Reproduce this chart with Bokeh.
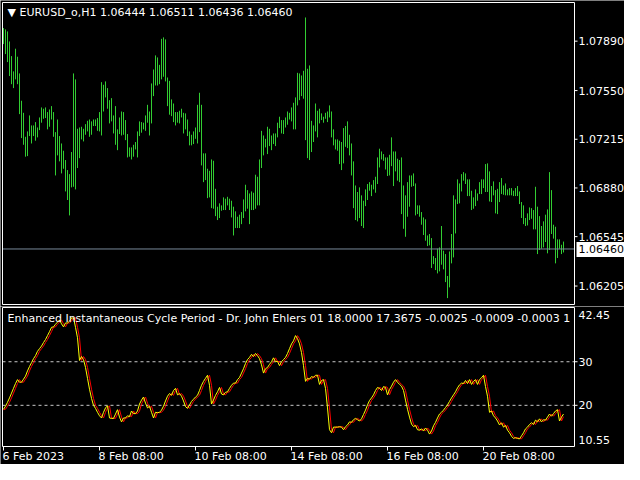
from bokeh.plotting import figure
from bokeh.layouts import column
from bokeh.models import Range1d
from bokeh.core.properties import value
from bokeh.embed import file_html
from bokeh.resources import INLINE

# ---------------- data ----------------
symbol_header = "\u25BC EURUSD_o,H1  1.06444 1.06511 1.06436 1.06460"
indicator_title = ("Enhanced Instantaneous Cycle Period - Dr. John Ehlers 01 "
                   "18.0000 17.3675 -0.0025 -0.0009 -0.0003 1")

bar_high = [
    1.07980, 1.07971, 1.07957, 1.07888, 1.07787, 1.07682, 1.07838, 1.07783, 1.07668, 1.07480,
    1.07397, 1.07232, 1.07269, 1.07379, 1.07310, 1.07310, 1.07333, 1.07296, 1.07365, 1.07434,
    1.07425, 1.07434, 1.07402, 1.07420, 1.07443, 1.07402, 1.07264, 1.07351, 1.07237, 1.07186,
    1.07136, 1.07072, 1.07003, 1.06975, 1.07127, 1.07668, 1.07627, 1.07287, 1.07296, 1.07301,
    1.07287, 1.07319, 1.07342, 1.07351, 1.07338, 1.07351, 1.07351, 1.07361, 1.07402, 1.07608,
    1.07590, 1.07613, 1.07567, 1.07484, 1.07498, 1.07379, 1.07443, 1.07283, 1.07365, 1.07406,
    1.07402, 1.07347, 1.07251, 1.07159, 1.07159, 1.07177, 1.07196, 1.07269, 1.07338, 1.07333,
    1.07329, 1.07379, 1.07452, 1.07406, 1.07599, 1.07695, 1.07792, 1.07778, 1.07727, 1.07906,
    1.07916, 1.07902, 1.07640, 1.07617, 1.07489, 1.07461, 1.07402, 1.07402, 1.07411, 1.07425,
    1.07397, 1.07393, 1.07351, 1.07269, 1.07246, 1.07269, 1.07296, 1.07452, 1.07535, 1.07452,
    1.07118, 1.07118, 1.07012, 1.06998, 1.07076, 1.07067, 1.06874, 1.06751, 1.06774, 1.06760,
    1.06815, 1.06806, 1.06819, 1.06806, 1.06792, 1.06751, 1.06719, 1.06682, 1.06696, 1.06714,
    1.06801, 1.06902, 1.06865, 1.06842, 1.06856, 1.06847, 1.06971, 1.06957, 1.07076, 1.07273,
    1.07241, 1.07218, 1.07301, 1.07287, 1.07241, 1.07255, 1.07255, 1.07329, 1.07370, 1.07347,
    1.07347, 1.07365, 1.07406, 1.07397, 1.07434, 1.07466, 1.07503, 1.07672, 1.07668, 1.07654,
    1.07686, 1.08053, 1.07700, 1.07723, 1.07342, 1.07310, 1.07461, 1.07411, 1.07425, 1.07393,
    1.07370, 1.07397, 1.07406, 1.07448, 1.07406, 1.07283, 1.07214, 1.07214, 1.07205, 1.07196,
    1.07292, 1.07306, 1.07338, 1.07246, 1.07186, 1.07063, 1.06897, 1.06852, 1.06884, 1.06829,
    1.06792, 1.06870, 1.06907, 1.06920, 1.06902, 1.06934, 1.06957, 1.07090, 1.07150, 1.07131,
    1.07113, 1.07090, 1.07090, 1.07108, 1.07228, 1.07131, 1.07131, 1.07081, 1.07072, 1.07090,
    1.06897, 1.06829, 1.06920, 1.06966, 1.06966, 1.06980, 1.06911, 1.06760, 1.06760, 1.06714,
    1.06677, 1.06664, 1.06553, 1.06563, 1.06535, 1.06411, 1.06398, 1.06462, 1.06471, 1.06618,
    1.06448, 1.06425, 1.06274, 1.06443, 1.06563, 1.06829, 1.06801, 1.06939, 1.06911, 1.06975,
    1.06989, 1.06980, 1.06939, 1.06939, 1.06861, 1.06815, 1.06870, 1.06842, 1.06920, 1.06939,
    1.06939, 1.07044, 1.07049, 1.06994, 1.06893, 1.06925, 1.06865, 1.06874, 1.06920, 1.06948,
    1.06897, 1.06911, 1.06870, 1.06879, 1.06879, 1.06861, 1.06879, 1.06893, 1.06856, 1.06783,
    1.06760, 1.06673, 1.06705, 1.06746, 1.06741, 1.06728, 1.06888, 1.06751, 1.06686, 1.06618,
    1.06650, 1.06696, 1.06732, 1.06989, 1.06865, 1.06627, 1.06613, 1.06526, 1.06526, 1.06489,
    1.06511,
]

bar_low = [
    1.07870, 1.07801, 1.07746, 1.07650, 1.07594, 1.07567, 1.07627, 1.07594, 1.07388, 1.07223,
    1.07177, 1.07095, 1.07099, 1.07237, 1.07186, 1.07237, 1.07205, 1.07228, 1.07278, 1.07329,
    1.07356, 1.07361, 1.07283, 1.07301, 1.07351, 1.07232, 1.06966, 1.07104, 1.07063, 1.06980,
    1.07012, 1.06856, 1.06797, 1.06691, 1.06884, 1.06888, 1.06870, 1.07017, 1.07085, 1.07214,
    1.07200, 1.07246, 1.07269, 1.07232, 1.07246, 1.07306, 1.07306, 1.07273, 1.07269, 1.07241,
    1.07406, 1.07503, 1.07425, 1.07324, 1.07338, 1.07255, 1.07177, 1.07140, 1.07251, 1.07241,
    1.07246, 1.07209, 1.07090, 1.07095, 1.07076, 1.07095, 1.07145, 1.07090, 1.07237, 1.07260,
    1.07283, 1.07273, 1.07329, 1.07241, 1.07324, 1.07512, 1.07585, 1.07585, 1.07594, 1.07627,
    1.07645, 1.07613, 1.07443, 1.07384, 1.07374, 1.07333, 1.07310, 1.07329, 1.07324, 1.07365,
    1.07255, 1.07283, 1.07237, 1.07173, 1.07173, 1.07182, 1.07218, 1.07186, 1.07264, 1.07035,
    1.06920, 1.06934, 1.06810, 1.06815, 1.06741, 1.06737, 1.06686, 1.06659, 1.06673, 1.06723,
    1.06728, 1.06728, 1.06760, 1.06728, 1.06677, 1.06553, 1.06604, 1.06604, 1.06604, 1.06631,
    1.06673, 1.06719, 1.06737, 1.06631, 1.06728, 1.06728, 1.06737, 1.06760, 1.06760, 1.07017,
    1.07104, 1.07159, 1.07113, 1.07168, 1.07140, 1.07182, 1.07168, 1.07228, 1.07292, 1.07255,
    1.07251, 1.07296, 1.07315, 1.07351, 1.07338, 1.07283, 1.07283, 1.07448, 1.07484, 1.07512,
    1.07494, 1.07209, 1.07085, 1.07072, 1.07127, 1.07196, 1.07269, 1.07228, 1.07324, 1.07347,
    1.07329, 1.07356, 1.07333, 1.07365, 1.07228, 1.07173, 1.07145, 1.07136, 1.07044, 1.07003,
    1.07049, 1.07163, 1.07154, 1.07104, 1.06966, 1.06741, 1.06659, 1.06650, 1.06673, 1.06618,
    1.06604, 1.06755, 1.06797, 1.06861, 1.06824, 1.06870, 1.06847, 1.06907, 1.07021, 1.07076,
    1.07067, 1.07007, 1.06962, 1.06966, 1.07030, 1.06893, 1.06994, 1.06930, 1.06920, 1.06700,
    1.06599, 1.06544, 1.06682, 1.06751, 1.06888, 1.06893, 1.06691, 1.06700, 1.06682, 1.06627,
    1.06556, 1.06517, 1.06480, 1.06485, 1.06329, 1.06356, 1.06315, 1.06292, 1.06306, 1.06352,
    1.06320, 1.06232, 1.06122, 1.06196, 1.06361, 1.06402, 1.06567, 1.06769, 1.06774, 1.06856,
    1.06930, 1.06907, 1.06824, 1.06824, 1.06728, 1.06737, 1.06755, 1.06792, 1.06838, 1.06838,
    1.06879, 1.06852, 1.06852, 1.06787, 1.06783, 1.06829, 1.06705, 1.06700, 1.06783, 1.06838,
    1.06833, 1.06829, 1.06829, 1.06829, 1.06829, 1.06824, 1.06824, 1.06824, 1.06769, 1.06673,
    1.06631, 1.06618, 1.06622, 1.06659, 1.06668, 1.06595, 1.06595, 1.06425, 1.06453, 1.06462,
    1.06471, 1.06508, 1.06430, 1.06453, 1.06563, 1.06531, 1.06361, 1.06398, 1.06462, 1.06425,
    1.06436,
]

bid_price = 1.06460
price_ticks = [1.06205, 1.06545, 1.06880, 1.07215, 1.07550, 1.07890]
price_min, price_max = 1.06078, 1.08156

cycle_period = [
    19.1, 19.8, 20.7, 21.7, 22.8, 23.9, 25.0, 25.9, 25.3, 25.3,
    26.0, 26.7, 27.9, 28.9, 29.8, 30.7, 31.4, 32.4, 33.0, 33.6,
    34.4, 35.1, 36.0, 36.9, 37.9, 38.0, 38.6, 39.1, 39.6, 38.7,
    38.0, 38.9, 38.9, 39.3, 40.0, 40.1, 37.9, 35.5, 30.3, 31.2,
    30.5, 28.7, 26.2, 23.7, 21.6, 20.0, 19.3, 18.4, 17.6, 17.1,
    18.4, 19.4, 19.9, 17.1, 17.0, 17.0, 18.0, 19.0, 17.3, 16.2,
    17.1, 17.1, 17.6, 17.4, 18.7, 18.1, 18.1, 18.7, 20.3, 21.2,
    21.9, 20.5, 19.4, 19.8, 18.4, 17.1, 18.4, 18.3, 18.4, 18.9,
    19.8, 21.0, 22.1, 22.7, 22.3, 23.4, 23.9, 22.4, 22.7, 22.1,
    21.0, 19.7, 19.3, 20.1, 20.9, 21.4, 21.9, 22.3, 23.4, 24.6,
    25.5, 26.2, 26.9, 24.6, 20.3, 21.2, 22.3, 23.1, 24.1, 22.6,
    22.4, 23.0, 23.1, 23.9, 24.6, 25.1, 25.1, 25.9, 26.4, 27.4,
    28.4, 29.6, 30.5, 31.0, 31.7, 31.2, 31.9, 31.4, 30.7, 29.3,
    27.4, 28.4, 28.7, 29.4, 30.0, 30.9, 30.0, 30.1, 29.1, 30.0,
    30.5, 31.0, 31.9, 33.0, 34.1, 34.8, 36.0, 35.3, 34.1, 32.1,
    29.1, 25.5, 26.2, 26.0, 26.6, 26.4, 26.9, 26.9, 24.8, 25.7,
    25.9, 23.9, 19.4, 14.4, 13.7, 15.0, 15.0, 15.0, 15.1, 15.0,
    14.4, 15.1, 15.5, 16.2, 16.1, 16.7, 17.0, 16.7, 16.4, 16.9,
    17.9, 18.9, 20.1, 21.1, 21.7, 22.4, 23.4, 24.1, 23.9, 23.4,
    24.3, 24.1, 22.4, 23.6, 24.4, 25.3, 25.9, 25.3, 24.8, 24.4,
    23.4, 21.2, 19.1, 17.3, 15.7, 15.1, 15.4, 14.4, 14.3, 14.6,
    14.1, 14.8, 14.3, 13.4, 14.1, 15.3, 16.1, 17.1, 18.0, 18.4,
    18.9, 19.5, 20.1, 20.9, 21.7, 22.4, 23.1, 24.0, 24.7, 25.1,
    25.0, 25.7, 25.0, 25.9, 24.8, 25.5, 25.9, 24.8, 25.9, 26.3,
    26.9, 24.3, 22.1, 18.4, 18.7, 17.6, 17.1, 16.4, 15.5, 16.0,
    15.0, 15.4, 14.3, 13.7, 12.9, 12.4, 12.6, 12.4, 12.3, 13.0,
    13.7, 14.6, 15.0, 15.6, 16.0, 15.6, 16.6, 16.2, 16.9, 16.2,
    16.7, 16.6, 17.3, 18.0, 17.5, 18.1, 18.7, 19.0, 16.4, 17.3,
    18.0,
]

trigger = [
    19.0, 19.1, 19.8, 20.7, 21.7, 22.8, 23.9, 25.0, 25.9, 25.3,
    25.3, 26.0, 26.7, 27.9, 28.9, 29.8, 30.7, 31.4, 32.4, 33.0,
    33.6, 34.4, 35.1, 36.0, 36.9, 37.9, 38.0, 38.6, 39.1, 39.6,
    38.7, 38.0, 38.9, 38.9, 39.3, 40.0, 40.1, 37.9, 35.5, 30.3,
    31.2, 30.5, 28.7, 26.2, 23.7, 21.6, 20.0, 19.3, 18.4, 17.6,
    17.1, 18.4, 19.4, 19.9, 17.1, 17.0, 17.0, 18.0, 19.0, 17.3,
    16.2, 17.1, 17.1, 17.6, 17.4, 18.7, 18.1, 18.1, 18.7, 20.3,
    21.2, 21.9, 20.5, 19.4, 19.8, 18.4, 17.1, 18.4, 18.3, 18.4,
    18.9, 19.8, 21.0, 22.1, 22.7, 22.3, 23.4, 23.9, 22.4, 22.7,
    22.1, 21.0, 19.7, 19.3, 20.1, 20.9, 21.4, 21.9, 22.3, 23.4,
    24.6, 25.5, 26.2, 26.9, 24.6, 20.3, 21.2, 22.3, 23.1, 24.1,
    22.6, 22.4, 23.0, 23.1, 23.9, 24.6, 25.1, 25.1, 25.9, 26.4,
    27.4, 28.4, 29.6, 30.5, 31.0, 31.7, 31.2, 31.9, 31.4, 30.7,
    29.3, 27.4, 28.4, 28.7, 29.4, 30.0, 30.9, 30.0, 30.1, 29.1,
    30.0, 30.5, 31.0, 31.9, 33.0, 34.1, 34.8, 36.0, 35.3, 34.1,
    32.1, 29.1, 25.5, 26.2, 26.0, 26.6, 26.4, 26.9, 26.9, 24.8,
    25.7, 25.9, 23.9, 19.4, 14.4, 13.7, 15.0, 15.0, 15.0, 15.1,
    15.0, 14.4, 15.1, 15.5, 16.2, 16.1, 16.7, 17.0, 16.7, 16.4,
    16.9, 17.9, 18.9, 20.1, 21.1, 21.7, 22.4, 23.4, 24.1, 23.9,
    23.4, 24.3, 24.1, 22.4, 23.6, 24.4, 25.3, 25.9, 25.3, 24.8,
    24.4, 23.4, 21.2, 19.1, 17.3, 15.7, 15.1, 15.4, 14.4, 14.3,
    14.6, 14.1, 14.8, 14.3, 13.4, 14.1, 15.3, 16.1, 17.1, 18.0,
    18.4, 18.9, 19.5, 20.1, 20.9, 21.7, 22.4, 23.1, 24.0, 24.7,
    25.1, 25.0, 25.7, 25.0, 25.9, 24.8, 25.5, 25.9, 24.8, 25.9,
    26.3, 26.9, 24.3, 22.1, 18.4, 18.7, 17.6, 17.1, 16.4, 15.5,
    16.0, 15.0, 15.4, 14.3, 13.7, 12.9, 12.4, 12.6, 12.4, 12.3,
    13.0, 13.7, 14.6, 15.0, 15.6, 16.0, 15.6, 16.6, 16.2, 16.9,
    16.2, 16.7, 16.6, 17.3, 18.0, 17.5, 18.1, 18.7, 19.0, 16.4,
    17.4,
]

osc_levels = [20, 30]
osc_min, osc_max = 10.55, 42.45

date_tick_bars = [0, 48, 96, 144, 192, 240]
date_tick_labels = ["6 Feb 2023", "8 Feb 08:00", "10 Feb 08:00",
                    "14 Feb 08:00", "16 Feb 08:00", "20 Feb 08:00"]

# ---------------- layout geometry (pixels) ----------------
FONT = value("DejaVu Sans")
FS = "11px"
BAR_COLOR = "#32CD32"
W, H1, H2 = 624, 306, 158
PANEL_L, PANEL_R = 2, 574          # panel border x (px)
LABEL_X = 578                      # scale label x (px)
P1_TOP, P1_BOT = 2, 304            # price panel border y (px, within p1)
P2_TOP, P2_BOT = 1, 140            # indicator panel border y (px, within p2)
X0 = -1.5                          # bar units at canvas x = 0 (2 px per bar)


def xd(px):
    return X0 + px / 2.0


S1 = (price_max - price_min) / (P1_BOT - P1_TOP)
S2 = (osc_max - osc_min) / (P2_BOT - P2_TOP)


def yd1(py):
    return price_max - (py - P1_TOP) * S1


def yd2(py):
    return osc_max - (py - P2_TOP) * S2


n = len(bar_high)
bars = list(range(n))
xr = Range1d(xd(0), xd(W))


def base_fig(h, yr):
    p = figure(width=W, height=h, x_range=xr, y_range=yr,
               x_axis_location=None, y_axis_location=None,
               output_backend="svg", toolbar_location=None, min_border=0)
    p.grid.visible = False
    p.background_fill_color = "black"
    p.border_fill_color = "black"
    p.outline_line_color = None
    return p


def panel_border(p, yd, top, bot):
    p.line(x=[xd(PANEL_L), xd(PANEL_R), xd(PANEL_R), xd(PANEL_L), xd(PANEL_L)],
           y=[yd(top), yd(top), yd(bot), yd(bot), yd(top)],
           line_color="white", line_width=1)


def txt(p, x, y, t, color="white", align="left", baseline="top"):
    p.text(x=x, y=y, text=t, text_color=color, text_align=align,
           text_baseline=baseline, text_font=FONT, text_font_size=FS)


# ---------------- price panel ----------------
p1 = base_fig(H1, Range1d(yd1(H1), yd1(0)))
p1.segment(x0=bars, y0=bar_low, x1=bars, y1=bar_high,
           line_color=BAR_COLOR, line_width=1)
p1.segment(x0=[xd(PANEL_L)], x1=[xd(PANEL_R)], y0=[bid_price], y1=[bid_price],
           line_color="#778899", line_width=1)
panel_border(p1, yd1, P1_TOP, P1_BOT)

# price scale
k = len(price_ticks)
p1.segment(x0=[xd(PANEL_R)] * k, x1=[xd(PANEL_R + 3)] * k,
           y0=price_ticks, y1=price_ticks, line_color="white", line_width=1)
txt(p1, [xd(LABEL_X)] * k, price_ticks, [f"{t:.5f}" for t in price_ticks],
    baseline="middle")

# bid price box
p1.quad(left=[xd(PANEL_R + 2)], right=[xd(W)],
        top=[bid_price + 7 * S1], bottom=[bid_price - 8 * S1],
        fill_color="white", line_color=None)
txt(p1, [xd(LABEL_X)], [bid_price], [f"{bid_price:.5f}"], color="black",
    baseline="middle")

# header
txt(p1, [xd(7)], [yd1(5)], [symbol_header])

# ---------------- indicator panel ----------------
p2 = base_fig(H2, Range1d(yd2(H2), yd2(0)))
p2.segment(x0=[xd(PANEL_L)] * 2, x1=[xd(PANEL_R)] * 2, y0=osc_levels, y1=osc_levels,
           line_color="#c8c8c8", line_dash="3 3", line_width=1)
p2.line(bars, trigger, line_color="red", line_width=1)
p2.line(bars, cycle_period, line_color="yellow", line_width=1)
panel_border(p2, yd2, P2_TOP, P2_BOT)

# indicator scale
p2.segment(x0=[xd(PANEL_R)] * 2, x1=[xd(PANEL_R + 3)] * 2, y0=osc_levels,
           y1=osc_levels, line_color="white", line_width=1)
txt(p2, [xd(LABEL_X)] * 2, osc_levels, [str(v) for v in osc_levels],
    baseline="middle")
txt(p2, [xd(LABEL_X)], [yd2(P2_TOP + 3)], [f"{osc_max:.2f}"])
txt(p2, [xd(LABEL_X)], [yd2(P2_BOT - 3)], [f"{osc_min:.2f}"], baseline="bottom")

# title
txt(p2, [xd(7)], [yd2(P2_TOP + 4)], [indicator_title])

# time scale
m = len(date_tick_bars)
p2.segment(x0=date_tick_bars, x1=date_tick_bars,
           y0=[yd2(P2_BOT)] * m, y1=[yd2(P2_BOT + 4)] * m,
           line_color="white", line_width=1)
p2.text(x=date_tick_bars, y=[yd2(P2_BOT + 3)] * m,
        text=date_tick_labels, text_color="white", text_align="left",
        text_baseline="top", text_font=FONT, text_font_size=FS, x_offset=-1)

layout = column(p1, p2, spacing=0)

with open("out.html", "w") as f:
    f.write(file_html(layout, INLINE, title="EURUSD_o,H1"))
